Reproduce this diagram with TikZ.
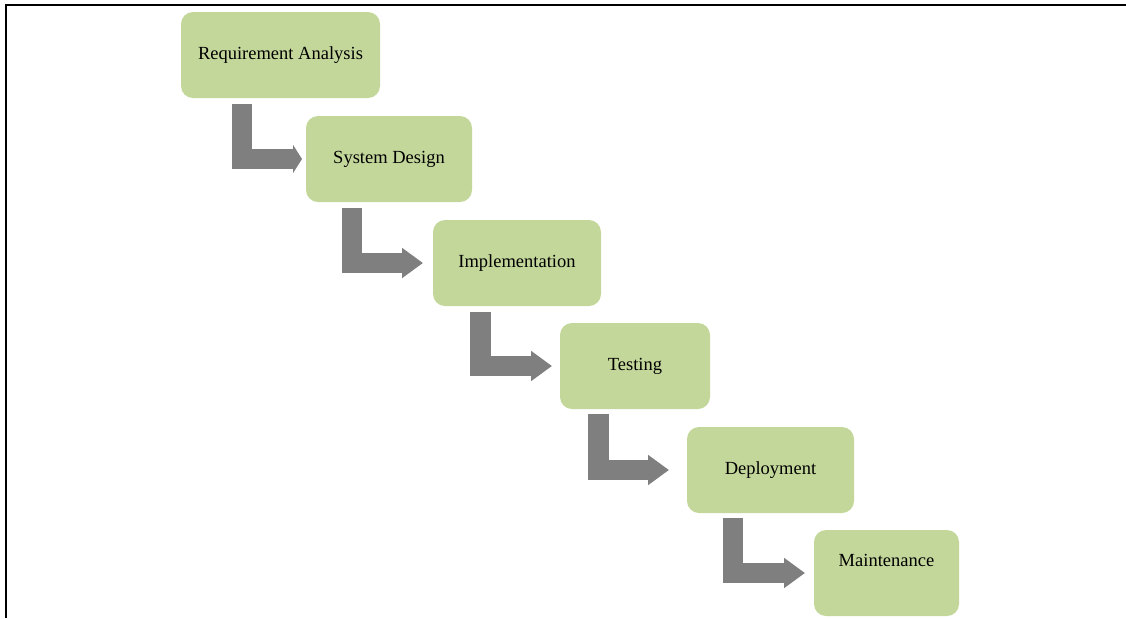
\documentclass[tikz,border=0pt]{standalone}
\usepackage{fontspec}
\setmainfont{Liberation Serif}
\usepackage{xcolor}
\usepackage{tikz}
\usetikzlibrary{positioning, arrows.meta}
\definecolor{stagegreen}{HTML}{C4D79B}
\definecolor{flowgray}{HTML}{7F7F7F}
\tikzstyle{stage} = [rectangle, rounded corners=6pt, minimum height=43pt, inner sep=0pt, outer sep=0pt, text centered, fill=stagegreen, font=\fontsize{9.25}{11}\selectfont]
\tikzstyle{flow} = [draw=flowgray, line width=10.25pt, -{Triangle[length=10.5pt,width=14.5pt]}]

\begin{document}
\begin{tikzpicture}[node distance=9pt]
    \useasboundingbox (0,0) rectangle (563pt,-309pt);
    % Frame
    \draw[line width=1pt] (3pt,-309pt) -- (3pt,-2.5pt) -- (563pt,-2.5pt);

    % Stages
    \node[stage, minimum width=99.5pt] (req) at (140.25pt,-27.5pt) {Requirement Analysis};
    \node[stage, minimum width=83pt, below=9pt of req.south west, anchor=north west, xshift=62.5pt] (design) {System Design};
    \node[stage, minimum width=84pt, below=9pt of design.south west, anchor=north west, xshift=63.5pt] (impl) {Implementation};
    \node[stage, minimum width=75pt, below=8.5pt of impl.south west, anchor=north west, xshift=63.5pt] (test) {Testing};
    \node[stage, minimum width=83.5pt, below=9pt of test.south west, anchor=north west, xshift=63.5pt] (deploy) {Deployment};
    \node[stage, minimum width=72.5pt, text depth=13pt, below=8.5pt of deploy.south west, anchor=north west, xshift=63.5pt] (maint) {Maintenance};

    % Flows
    \draw[flow, -{Triangle[length=4.5pt,width=14pt]}] ([xshift=30.5pt,yshift=-3pt]req.south west) |- ([xshift=-2pt]design.west);
    \draw[flow] ([xshift=23pt,yshift=-3pt]design.south west) |- ([xshift=-5pt]impl.west);
    \draw[flow] ([xshift=23.75pt,yshift=-3pt]impl.south west) |- ([xshift=-4pt]test.west);
    \draw[flow] ([xshift=19.25pt,yshift=-2.5pt]test.south west) |- ([xshift=-9pt]deploy.west);
    \draw[flow] ([xshift=23pt,yshift=-2.5pt]deploy.south west) |- ([xshift=-4.5pt]maint.west);

\end{tikzpicture}
\end{document}
